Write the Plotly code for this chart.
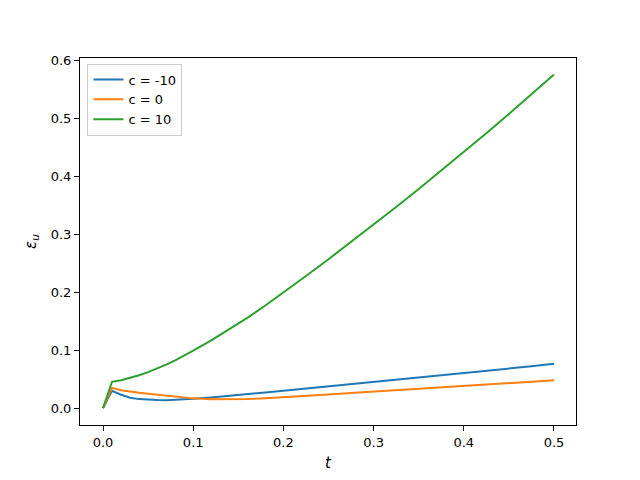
import plotly.graph_objects as go

t_vals = [0, 0.01, 0.02, 0.03, 0.04, 0.05, 0.06, 0.07, 0.08, 0.09, 0.1,
          0.12, 0.14, 0.16, 0.18, 0.2, 0.225, 0.25, 0.275, 0.3, 0.325,
          0.35, 0.375, 0.4, 0.425, 0.45, 0.475, 0.5]
c_minus10 = [0, 0.030, 0.023, 0.018, 0.0155, 0.0143, 0.0138, 0.0137, 0.0142, 0.0150, 0.016,
             0.0185, 0.021, 0.024, 0.027, 0.030, 0.0338, 0.0375, 0.0413, 0.045, 0.0488,
             0.0525, 0.0563, 0.060, 0.064, 0.068, 0.0722, 0.0765]
c_zero = [0, 0.035, 0.031, 0.0285, 0.0265, 0.0248, 0.0232, 0.0216, 0.020, 0.0184, 0.0168,
          0.0152, 0.0148, 0.0155, 0.017, 0.0185, 0.021, 0.0235, 0.026, 0.0285, 0.0309,
          0.0333, 0.0357, 0.038, 0.0405, 0.043, 0.0455, 0.048]
c_plus10 = [0, 0.0455, 0.0482, 0.052, 0.0567, 0.0622, 0.0684, 0.0752, 0.0826, 0.0906, 0.0992,
            0.1170, 0.1360, 0.1560, 0.1772, 0.1995, 0.2281, 0.2572, 0.2868, 0.3169, 0.3475,
            0.3786, 0.4102, 0.4423, 0.4749, 0.5080, 0.5416, 0.5765]
labels = ["c = -10", "c = 0", "c = 10"]
colors = ["#1f77b4", "#ff7f0e", "#2ca02c"]
tick_vals = [0.0, 0.1, 0.2, 0.3, 0.4, 0.5, 0.6]

fig = go.Figure()
for ys, name, col in zip([c_minus10, c_zero, c_plus10], labels, colors):
    fig.add_trace(go.Scatter(x=t_vals, y=ys, mode="lines", name=name,
                             line=dict(color=col, width=2)))

axis_common = dict(showline=True, linecolor="black", linewidth=1, mirror=True,
                   ticks="outside", ticklen=5, tickcolor="black", showgrid=False,
                   zeroline=False, tickformat=".1f",
                   tickfont=dict(family="DejaVu Sans", size=13, color="black"))

fig.update_layout(
    width=640, height=480,
    paper_bgcolor="white", plot_bgcolor="white",
    margin=dict(l=80, r=64, t=58, b=51),
    font=dict(family="DejaVu Sans", size=13, color="black"),
    xaxis=dict(range=[-0.0255, 0.5244], tickvals=tick_vals[:6],
               title=dict(text="<i>t</i>", font=dict(size=15), standoff=8), **axis_common),
    yaxis=dict(range=[-0.0292, 0.6048], tickvals=tick_vals,
               title=dict(text="<i>ε<sub>u</sub></i>", font=dict(size=15), standoff=10), **axis_common),
    legend=dict(x=0.015, y=0.985, xanchor="left", yanchor="top",
                bgcolor="rgba(255,255,255,0.8)", bordercolor="#cccccc", borderwidth=1,
                font=dict(family="DejaVu Sans", size=13), tracegroupgap=2),
    showlegend=True,
)

fig.write_html("out.html", config={"displayModeBar": False},
               post_script="document.body.style.margin='0px';")
